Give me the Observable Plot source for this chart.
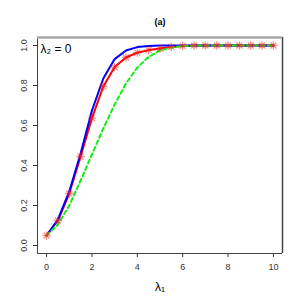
<!DOCTYPE html>
<html><head><meta charset="utf-8">
<script src="https://cdn.jsdelivr.net/npm/d3@7"></script>
<script src="https://cdn.jsdelivr.net/npm/@observablehq/plot@0.6"></script>
<style>body{margin:0;background:#fff;} svg{display:block;}</style>
</head><body><div id="chart"></div>
<script>
const lambda1 = [0,0.5,1,1.5,2,2.5,3,3.5,4,4.5,5,5.5,6,6.5,7,7.5,8,8.5,9,9.5,10];
const redValues = [0.05,0.125,0.26,0.445,0.637,0.795,0.892,0.94,0.964,0.977,0.985,0.993,0.998,1,1,1,1,1,1,1,1];
const blueValues = [0.05,0.13,0.27,0.46,0.675,0.835,0.932,0.975,0.992,0.998,1,1,1,1,1,1,1,1,1,1,1];
const greenValues = [0.05,0.105,0.2,0.325,0.455,0.585,0.705,0.81,0.89,0.943,0.975,0.99,0.997,1,1,1,1,1,1,1,1];
const xTicks = [0,2,4,6,8,10];
const yTicks = [0,0.2,0.4,0.6,0.8,1.0];
const title = "(a)";
const panelLabel = "λ₂ = 0";

const red = lambda1.map((x,i)=>({x, y:redValues[i]}));
const blue = lambda1.map((x,i)=>({x, y:blueValues[i]}));
const green = lambda1.map((x,i)=>({x, y:greenValues[i]}));

const chart = Plot.plot({
  width: 301, height: 300,
  marginLeft: 37, marginRight: 19, marginTop: 37, marginBottom: 47,
  style: {fontFamily: "Liberation Sans, Arial, sans-serif", background: "#fff"},
  x: {domain: [-0.4, 10.4]},
  y: {domain: [-0.04, 1.04]},
  marks: [
    Plot.axisX({ticks: xTicks, tickSize: 4, tickPadding: 6, fontSize: 9, color: "#333", label: null}),
    Plot.axisY({ticks: yTicks, tickSize: 4, tickFormat: () => "", label: null, color: "#333"}),
    Plot.text(yTicks, {x: -0.4, y: d => d, text: d => d.toFixed(1), rotate: -90, dx: -13, fontSize: 9, fill: "#333"}),
    Plot.line(red, {x: "x", y: "y", stroke: "#ff0000", strokeWidth: 2}),
    Plot.line(blue, {x: "x", y: "y", stroke: "#0000ff", strokeWidth: 2}),
    Plot.line(green, {x: "x", y: "y", stroke: "#11ee11", strokeWidth: 2, strokeDasharray: "4,3"}),
    Plot.dot(red, {x: "x", y: "y", symbol: "plus", r: 2.8, stroke: "#ff2020", strokeWidth: 1.3, strokeOpacity: 0.5}),
    Plot.dot(red, {x: "x", y: "y", symbol: "times", r: 2.8, stroke: "#ff2020", strokeWidth: 1.3, strokeOpacity: 0.5}),
    Plot.ruleX([-0.4], {stroke: "#444", strokeWidth: 1}),
    Plot.ruleX([10.4], {stroke: "#444", strokeWidth: 1.5}),
    Plot.ruleY([-0.04], {stroke: "#444", strokeWidth: 1}),
    Plot.ruleY([1.04], {stroke: "#aaa", strokeWidth: 2.5}),
    Plot.text([panelLabel], {frameAnchor: "top-left", dx: 3, dy: 7, fontSize: 12, textAnchor: "start", fill: "#000"}),
    Plot.text([title], {frameAnchor: "top", dy: -19, fontSize: 9, fontWeight: "bold", fill: "#000"}),
    Plot.text(["λ₁"], {frameAnchor: "bottom", dy: 37, fontSize: 12, fill: "#000"})
  ]
});
document.getElementById("chart").append(chart);
</script>
</body></html>
